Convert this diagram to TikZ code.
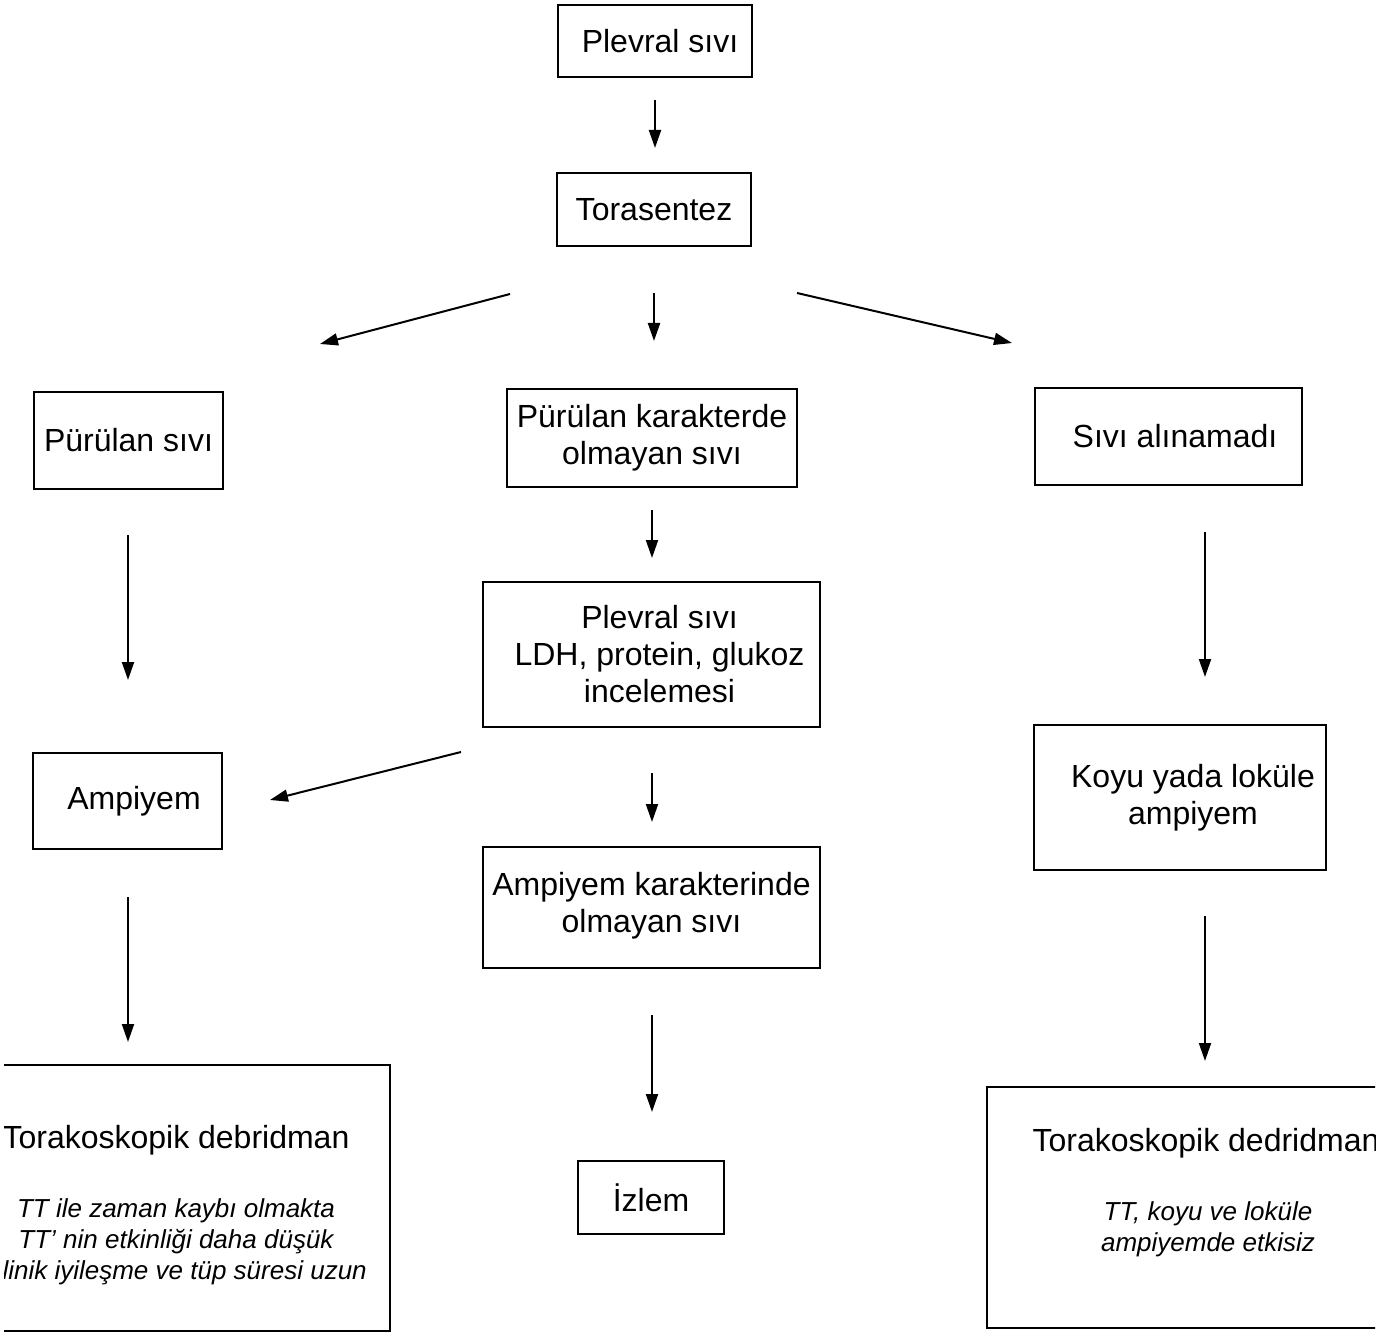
\documentclass[tikz,border=0pt]{standalone}
\usepackage{fontspec}
\setmainfont{Liberation Sans}
\usetikzlibrary{arrows.meta}

\begin{document}
\begin{tikzpicture}[x=0.5pt,y=-0.5pt,
	box/.style={draw,line width=1.2pt,align=center,inner sep=0pt,font=\fontsize{16}{18.5}\selectfont},
	note/.style={align=center,font=\fontsize{13}{15.5}\selectfont\itshape},
	arr/.style={line width=1pt,-{Triangle[length=9pt,width=6pt]}}]
	\useasboundingbox (0,0) rectangle (1393,1332);
	\clip (4,-10) rectangle (1375,1342);
	% boxes
	\node[box,minimum width=97pt,minimum height=36pt] (P) at (655,41) {\hspace*{5pt}Plevral sıvı};
	\node[box,minimum width=97pt,minimum height=36.5pt] (T) at (654,209.5) {Torasentez};
	\node[box,minimum width=94.5pt,minimum height=48.5pt] (Pur) at (128.5,440.5) {Pürülan sıvı};
	\node[box,minimum width=145pt,minimum height=49pt] (NPur) at (652,438) {Pürülan karakterde\\olmayan sıvı};
	\node[box,minimum width=133.5pt,minimum height=48.5pt] (NoF) at (1168.5,436.5) {\hspace*{6.5pt}Sıvı alınamadı};
	\node[box,minimum width=168.5pt,minimum height=72.5pt] (Bio) at (651.5,654.5) {\hspace*{8pt}Plevral sıvı\\\hspace*{8pt}LDH, protein, glukoz\\\hspace*{8pt}incelemesi};
	\node[box,minimum width=94.5pt,minimum height=48pt] (Amp) at (127.5,801) {\hspace*{6.5pt}Ampiyem};
	\node[box,minimum width=168.5pt,minimum height=60.5pt] (NAmp) at (651.5,907.5) {Ampiyem karakterinde\\olmayan sıvı\\[-13pt]};
	\node[box,minimum width=146pt,minimum height=72.5pt] (Lok) at (1180,797.5) {\hspace*{13pt}Koyu yada loküle\\\hspace*{13pt}ampiyem};
	\node[box,minimum width=73pt,minimum height=36.5pt] (Iz) at (651,1197.5) {İzlem};
	\node[box,minimum width=214pt,minimum height=133pt] (VL) at (176,1198) {};
	\node[box,draw=none] (VLt) at (176,1140) {Torakoskopik debridman};
	\node[note] (VLn) at (176,1242) {TT ile zaman kaybı olmakta\\TT’ nin etkinliği daha düşük\\Klinik iyileşme ve tüp süresi uzun};
	\node[box,minimum width=221pt,minimum height=120.5pt] (VR) at (1208,1207.5) {};
	\node[box,draw=none] (VRt) at (1206,1143) {Torakoskopik dedridman};
	\node[note] (VRn) at (1208,1229.5) {TT, koyu ve loküle\\ampiyemde etkisiz};
	% arrow ends
	\coordinate (P-o) at (655,100);  \coordinate (T-i) at (655,148);
	\coordinate (T-l) at (510,294);  \coordinate (Pur-i) at (320,344);
	\coordinate (T-m) at (654,293);  \coordinate (NPur-i) at (654,341);
	\coordinate (T-r) at (797,293);  \coordinate (NoF-i) at (1012,343);
	\coordinate (NPur-o) at (652,510); \coordinate (Bio-i) at (652,558);
	\coordinate (Pur-o) at (128,535); \coordinate (Amp-i) at (128,680);
	\coordinate (NoF-o) at (1205,532); \coordinate (Lok-i) at (1205,677);
	\coordinate (Bio-l) at (461,752); \coordinate (Amp-r) at (270,800);
	\coordinate (Bio-o) at (652,773); \coordinate (NAmp-i) at (652,822);
	\coordinate (Amp-o) at (128,897); \coordinate (VL-i) at (128,1042);
	\coordinate (NAmp-o) at (652,1015); \coordinate (Iz-i) at (652,1112);
	\coordinate (Lok-o) at (1205,916); \coordinate (VR-i) at (1205,1061);
	% arrows
	\draw[arr] (P-o) -- (T-i);
	\draw[arr] (T-l) -- (Pur-i);
	\draw[arr] (T-m) -- (NPur-i);
	\draw[arr] (T-r) -- (NoF-i);
	\draw[arr] (NPur-o) -- (Bio-i);
	\draw[arr] (Pur-o) -- (Amp-i);
	\draw[arr] (NoF-o) -- (Lok-i);
	\draw[arr] (Bio-l) -- (Amp-r);
	\draw[arr] (Bio-o) -- (NAmp-i);
	\draw[arr] (Amp-o) -- (VL-i);
	\draw[arr] (NAmp-o) -- (Iz-i);
	\draw[arr] (Lok-o) -- (VR-i);
\end{tikzpicture}
\end{document}
